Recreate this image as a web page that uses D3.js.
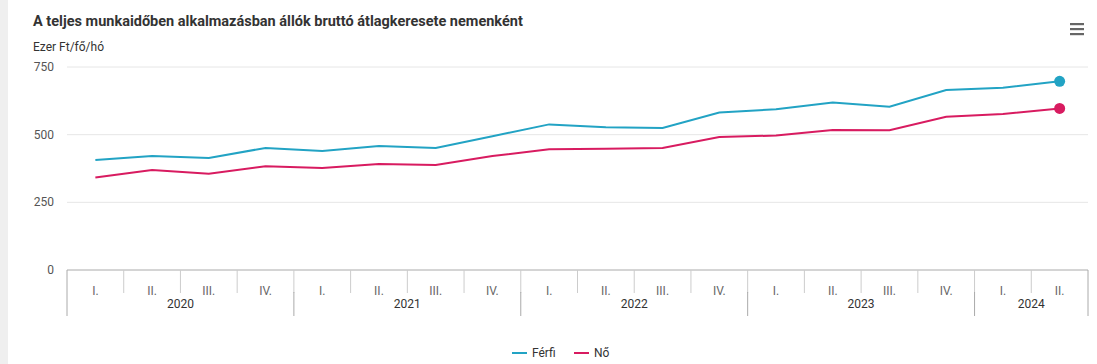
<!DOCTYPE html>
<html>
<head>
<meta charset="utf-8">
<script src="https://cdn.jsdelivr.net/npm/d3@7"></script>
<style>
	body { margin: 0; background: #fff; font-family: Roboto, sans-serif; }
	svg { display: block; }
</style>
</head>
<body>
<svg id="chart" width="1097" height="364"></svg>
<script>
var years = ['2020', '2021', '2022', '2023', '2024'];
var quarters = ['I.', 'II.', 'III.', 'IV.', 'I.', 'II.', 'III.', 'IV.', 'I.', 'II.', 'III.', 'IV.', 'I.', 'II.', 'III.', 'IV.', 'I.', 'II.'];
var quarterYear = ['2020', '2020', '2020', '2020', '2021', '2021', '2021', '2021', '2022', '2022', '2022', '2022', '2023', '2023', '2023', '2023', '2024', '2024'];
var ferfi = [406, 421, 414, 451, 440, 458, 451, 494, 538, 527, 525, 582, 594, 619, 603, 665, 673, 697];
var no = [342, 369, 356, 383, 377, 392, 388, 421, 446, 448, 451, 491, 497, 517, 516, 566, 576, 597];
var yTicks = [0, 250, 500, 750];
var seriesNames = ['Férfi', 'Nő'];
var seriesColors = ['#22a3c4', '#d81b60'];

var width = 1097, height = 364;
var svg = d3.select('#chart');
var plotLeft = 67, plotRight = 1088, plotTop = 67, plotBottom = 270;

// grey strip on the left
svg.append('rect').attr('x', 0).attr('y', 0).attr('width', 8).attr('height', height).attr('fill', '#efefef');

svg.append('text').text('A teljes munkaidőben alkalmazásban állók bruttó átlagkeresete nemenként')
	.attr('x', 33).attr('y', 26)
	.style('font-size', '14.5px').style('font-weight', 'bold').attr('fill', '#333');

svg.append('text').text('Ezer Ft/fő/hó')
	.attr('x', 33).attr('y', 51)
	.style('font-size', '12px').attr('fill', '#333');

// menu icon
[24, 29, 34].forEach(function(yy) {
	svg.append('rect').attr('x', 1070).attr('y', yy - 1).attr('width', 14).attr('height', 2.2).attr('fill', '#666');
});

var idx = d3.range(quarters.length);
var x = d3.scaleBand().domain(idx).range([plotLeft, plotRight]);
var y = d3.scaleLinear().domain([0, 750]).range([plotBottom, plotTop]);

// grid
svg.selectAll('.grid').data(yTicks.filter(function(d) { return d > 0; })).enter().append('line')
	.attr('x1', plotLeft).attr('x2', plotRight)
	.attr('y1', function(d) { return y(d); }).attr('y2', function(d) { return y(d); })
	.attr('stroke', '#e6e6e6');

svg.selectAll('.ytick').data(yTicks).enter().append('text')
	.text(function(d) { return d; })
	.attr('x', 54).attr('y', function(d) { return y(d) + 4; })
	.attr('text-anchor', 'end')
	.style('font-size', '12px').attr('fill', '#555');

// x axis
svg.append('line').attr('x1', plotLeft).attr('x2', plotRight).attr('y1', plotBottom).attr('y2', plotBottom)
	.attr('stroke', '#aaa');

// quarter separators
svg.selectAll('.qsep').data(idx.slice(1)).enter().append('line')
	.attr('x1', function(d) { return x(d); }).attr('x2', function(d) { return x(d); })
	.attr('y1', plotBottom).attr('y2', plotBottom + 23)
	.attr('stroke', '#ccc');

svg.selectAll('.qlab').data(idx).enter().append('text')
	.text(function(d) { return quarters[d]; })
	.attr('x', function(d) { return x(d) + x.bandwidth() / 2; })
	.attr('y', plotBottom + 25)
	.attr('text-anchor', 'middle')
	.style('font-size', '12px').attr('fill', '#666');

// year groups
var yearStart = years.map(function(yr) { return quarterYear.indexOf(yr); });
var yearEnd = years.map(function(yr) { return quarterYear.lastIndexOf(yr); });
var yearEdges = yearStart.map(function(s) { return x(s); }).concat([plotRight]);

svg.selectAll('.ysep').data(yearEdges).enter().append('line')
	.attr('x1', function(d) { return d; }).attr('x2', function(d) { return d; })
	.attr('y1', function(d, i) { return (i === 0 || i === yearEdges.length - 1) ? plotBottom : plotBottom + 22; })
	.attr('y2', plotBottom + 46)
	.attr('stroke', '#aaa');

svg.selectAll('.ylab').data(years).enter().append('text')
	.text(function(d) { return d; })
	.attr('x', function(d, i) { return (x(yearStart[i]) + x(yearEnd[i]) + x.bandwidth()) / 2; })
	.attr('y', plotBottom + 38)
	.attr('text-anchor', 'middle')
	.style('font-size', '12px').attr('fill', '#333');

// lines
var line = d3.line()
	.x(function(d, i) { return x(i) + x.bandwidth() / 2; })
	.y(function(d) { return y(d); });

[ferfi, no].forEach(function(series, s) {
	svg.append('path').datum(series)
		.attr('d', line)
		.attr('fill', 'none')
		.attr('stroke', seriesColors[s])
		.attr('stroke-width', 2);
	var last = series.length - 1;
	svg.append('circle')
		.attr('cx', x(last) + x.bandwidth() / 2)
		.attr('cy', y(series[last]))
		.attr('r', 5.5)
		.attr('fill', seriesColors[s]);
});

// legend
var legend = svg.append('g').attr('transform', 'translate(512,353)');
var lx = [0, 62];
seriesNames.forEach(function(name, i) {
	legend.append('line').attr('x1', lx[i]).attr('x2', lx[i] + 15).attr('y1', 0).attr('y2', 0)
		.attr('stroke', seriesColors[i]).attr('stroke-width', 2);
	legend.append('text').text(name)
		.attr('x', lx[i] + 20).attr('y', 4)
		.style('font-size', '12px').attr('fill', '#333');
});
</script>
</body>
</html>
